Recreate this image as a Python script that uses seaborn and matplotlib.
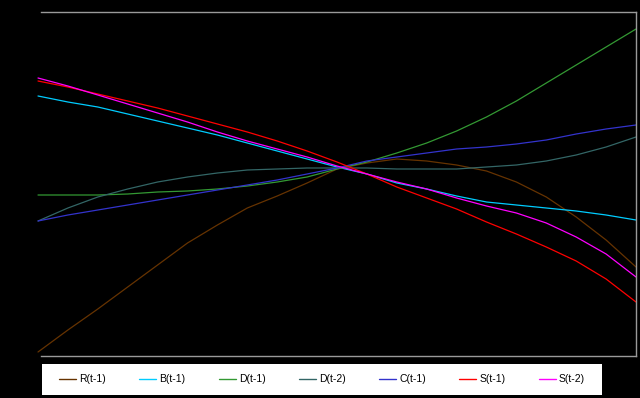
import numpy as np
import pandas as pd
import seaborn as sns
import matplotlib
matplotlib.use("Agg")
import matplotlib.pyplot as plt
from matplotlib.patches import Rectangle

# x: shock grid, -1 .. 1
x = [round(-1 + 0.1 * k, 1) for k in range(21)]

R_t1 = [-1.84, -1.62, -1.41, -1.19, -0.97, -0.75, -0.57, -0.40, -0.28, -0.15, -0.01,
        0.05, 0.09, 0.07, 0.03, -0.03, -0.14, -0.29, -0.49, -0.72, -0.99]
B_t1 = [0.72, 0.66, 0.61, 0.54, 0.47, 0.40, 0.33, 0.25, 0.17, 0.09, 0.01,
        -0.06, -0.15, -0.21, -0.28, -0.34, -0.37, -0.40, -0.43, -0.47, -0.52]
D_t1 = [-0.27, -0.27, -0.27, -0.26, -0.24, -0.23, -0.21, -0.18, -0.14, -0.09, -0.01,
        0.06, 0.15, 0.25, 0.37, 0.51, 0.67, 0.85, 1.03, 1.21, 1.39]
D_t2 = [-0.53, -0.40, -0.29, -0.21, -0.14, -0.09, -0.05, -0.02, -0.01, 0.00, 0.00,
        0.00, -0.01, -0.01, -0.01, 0.01, 0.03, 0.07, 0.13, 0.21, 0.31]
C_t1 = [-0.53, -0.47, -0.42, -0.37, -0.32, -0.27, -0.22, -0.17, -0.12, -0.06, 0.00,
        0.07, 0.11, 0.15, 0.19, 0.21, 0.24, 0.28, 0.34, 0.39, 0.43]
S_t1 = [0.87, 0.81, 0.74, 0.67, 0.60, 0.52, 0.44, 0.36, 0.27, 0.17, 0.06,
        -0.06, -0.19, -0.30, -0.41, -0.54, -0.66, -0.79, -0.93, -1.11, -1.34]
S_t2 = [0.90, 0.82, 0.73, 0.64, 0.55, 0.46, 0.36, 0.27, 0.19, 0.11, 0.02,
        -0.06, -0.14, -0.21, -0.30, -0.38, -0.45, -0.55, -0.69, -0.86, -1.09]

labels = ["R(t-1)", "B(t-1)", "D(t-1)", "D(t-2)", "C(t-1)", "S(t-1)", "S(t-2)"]
series = [R_t1, B_t1, D_t1, D_t2, C_t1, S_t1, S_t2]
colors = ["#663300", "#00ccff", "#339933", "#336666", "#3333cc", "#ff0000", "#ff00ff"]

df = pd.concat(
    [pd.DataFrame({"x": x, "y": s, "series": lab}) for lab, s in zip(labels, series)],
    ignore_index=True,
)

sns.set_style("white")
plt.rcParams["font.family"] = ["Liberation Sans", "DejaVu Sans"]

W, H = 640, 398
fig = plt.figure(figsize=(W / 100, H / 100), dpi=100, facecolor="black")
ax = fig.add_axes([41 / W, (H - 356) / H, (636 - 41) / W, (356 - 12) / H])
ax.set_facecolor("black")

sns.lineplot(data=df, x="x", y="y", hue="series", hue_order=labels,
             palette=dict(zip(labels, colors)), linewidth=0.9, ax=ax,
             legend=True)
for ln in ax.get_lines():
    ln.set_clip_on(False)

ax.set_xlim(-1 + 6 / 598, 1)
ax.set_ylim(-1.88, 1.56)
ax.set_xticks([])
ax.set_yticks([])
ax.set_xlabel("")
ax.set_ylabel("")
for side in ["top", "right", "bottom"]:
    ax.spines[side].set_visible(True)
    ax.spines[side].set_color("#9a9a9a")
    ax.spines[side].set_linewidth(1.0)
ax.spines["left"].set_visible(False)

handles, labs = ax.get_legend_handles_labels()
ax.get_legend().remove()

fig.patches.append(Rectangle((42 / W, (H - 395) / H), (602 - 42) / W, 31 / H,
                             transform=fig.transFigure, facecolor="white",
                             edgecolor="none", zorder=0))
leg = fig.legend(handles, labs, loc="center left",
                 bbox_to_anchor=(59 / W, (H - 379.5) / H),
                 ncol=7, frameon=False, fontsize=7.5, borderpad=0,
                 borderaxespad=0, handlelength=1.63, handletextpad=0.3,
                 columnspacing=3.2)
for t in leg.get_texts():
    t.set_color("black")
for l in leg.get_lines():
    l.set_linewidth(1.0)

fig.savefig("out.png", dpi=100, facecolor="black")
